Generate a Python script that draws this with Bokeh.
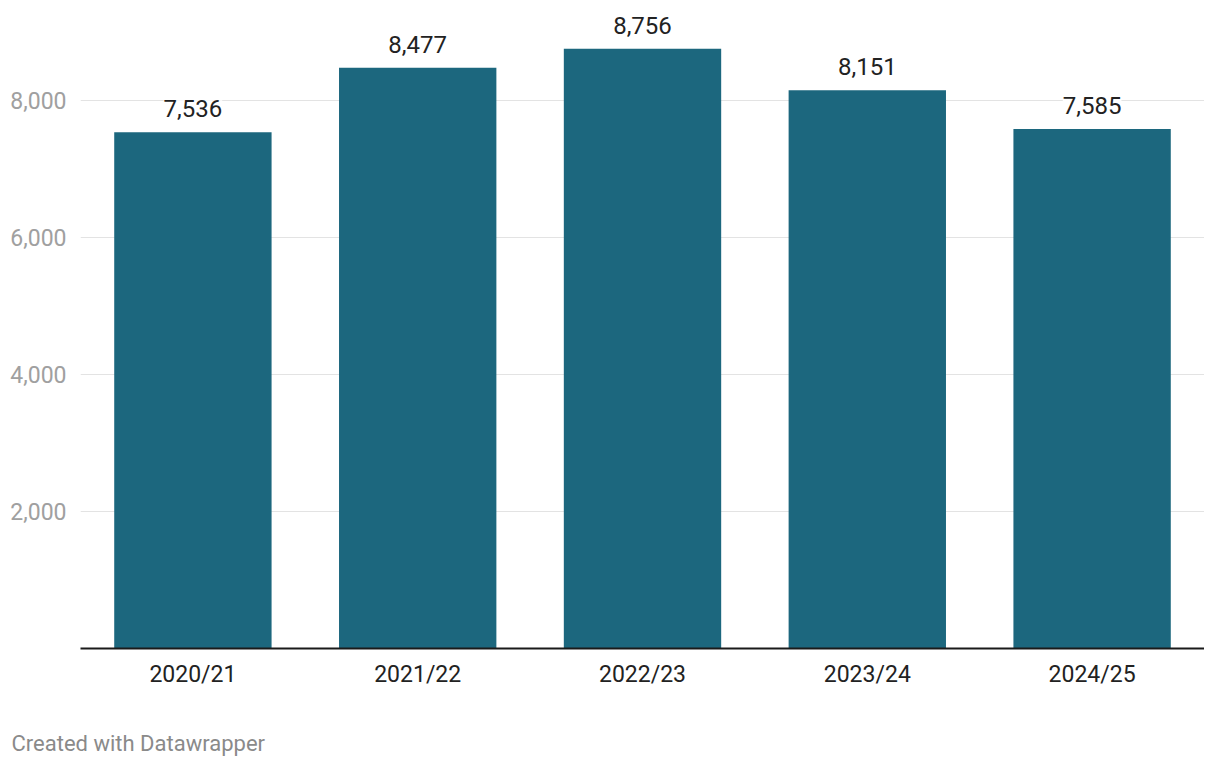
from bokeh.plotting import figure
from bokeh.models import ColumnDataSource, LabelSet, FixedTicker, NumeralTickFormatter, Label
from bokeh.core.properties import value
from bokeh.embed import file_html
from bokeh.resources import INLINE

years = ["2020/21", "2021/22", "2022/23", "2023/24", "2024/25"]
values = [7536, 8477, 8756, 8151, 7585]
y_ticks = [2000, 4000, 6000, 8000]

labels = [f"{v:,}" for v in values]
src = ColumnDataSource(dict(x=years, y=values, label=labels))

p = figure(x_range=years, y_range=(0, 9314), width=1204, height=760,
           output_backend="svg", toolbar_location=None,
           min_border_left=80, min_border_right=0, min_border_top=10, min_border_bottom=112)
p.x_range.range_padding = 0
p.outline_line_color = None
p.background_fill_color = "white"
p.border_fill_color = "white"

p.vbar(x="x", top="y", width=0.70, source=src, color="#1c677e", line_color=None)

p.xgrid.grid_line_color = None
p.ygrid.grid_line_color = "#e3e3e3"
p.ygrid.grid_line_width = 1
p.yaxis.ticker = FixedTicker(ticks=y_ticks)
p.yaxis.formatter = NumeralTickFormatter(format="0,0")
p.yaxis.axis_line_color = None
p.yaxis.major_tick_line_color = None
p.yaxis.minor_tick_line_color = None
p.yaxis.major_label_text_font = "Roboto"
p.yaxis.major_label_text_font_size = "23px"
p.yaxis.major_label_text_color = "#a0a0a0"
p.yaxis.major_label_standoff = 8

p.xaxis.axis_line_color = "#1a1a1a"
p.xaxis.axis_line_width = 2
p.xaxis.major_tick_line_color = None
p.xaxis.minor_tick_line_color = None
p.xaxis.major_label_text_font = "Roboto"
p.xaxis.major_label_text_font_size = "23px"
p.xaxis.major_label_text_color = "#222222"
p.xaxis.major_label_standoff = 6

p.add_layout(LabelSet(x="x", y="y", text="label", source=src, text_align="center",
                      text_baseline="alphabetic", y_offset=15, text_font=value("Roboto"),
                      text_font_size="24px", text_color="#222222",
                      background_fill_color="white", border_line_color=None))

footer = Label(x=-69, y=-28, x_units="screen", y_units="screen",
               text="Created with Datawrapper",
               text_font="Roboto", text_font_size="22px", text_color="#8a8a8a",
               text_baseline="alphabetic")
p.add_layout(footer, "below")

open("out.html", "w").write(file_html(p, INLINE))
